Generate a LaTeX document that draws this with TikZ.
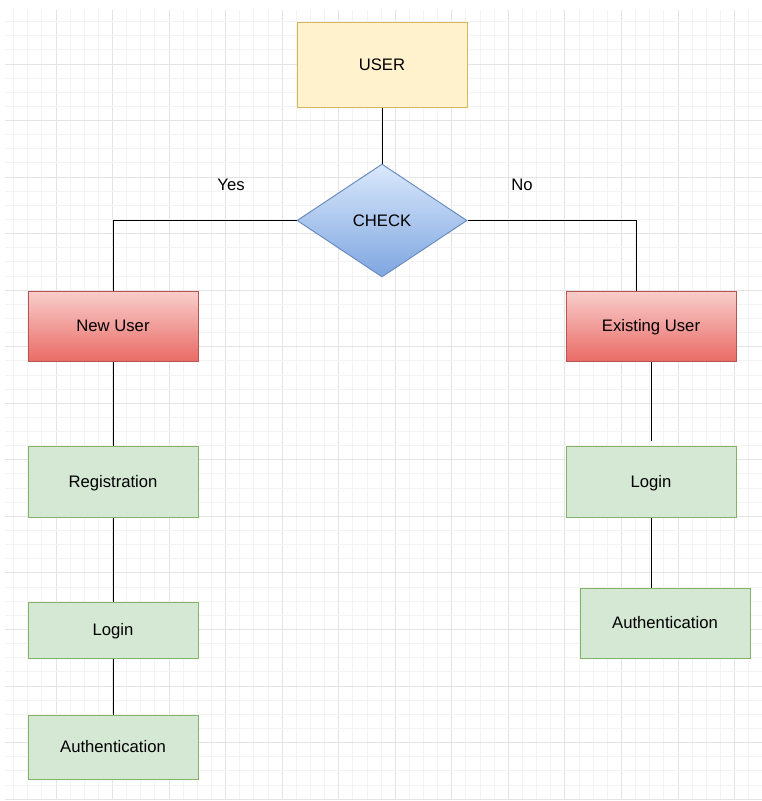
\documentclass[tikz,border=0pt]{standalone}
\usepackage{fontspec}
\setmainfont{Liberation Sans}
\usetikzlibrary{shapes.geometric}

\definecolor{gridminor}{HTML}{F3F3F3}
\definecolor{gridmajor}{HTML}{E4E4E4}
\definecolor{yellowfill}{HTML}{FFF2CC}
\definecolor{yellowline}{HTML}{D6B656}
\definecolor{greenfill}{HTML}{D5E8D4}
\definecolor{greenline}{HTML}{82B366}
\definecolor{redtop}{HTML}{F8CECC}
\definecolor{redbottom}{HTML}{EA6B66}
\definecolor{redline}{HTML}{B85450}
\definecolor{bluetop}{HTML}{DAE8FC}
\definecolor{bluebottom}{HTML}{7EA6E0}
\definecolor{blueline}{HTML}{6C8EBF}

\newlength{\px}
\setlength{\px}{0.75pt}

\tikzset{
  txt/.style={font=\fontsize{12.5}{15}\selectfont, text height=8.95pt, text depth=0pt},
  box/.style={rectangle, minimum width=170\px, line width=0.75pt, inner sep=0pt, txt},
  userbox/.style={box, fill=yellowfill, draw=yellowline, minimum height=85\px},
  redbox/.style={box, top color=redtop, bottom color=redbottom, draw=redline, minimum height=70\px},
  greenbox/.style={box, fill=greenfill, draw=greenline},
  checkbox/.style={diamond, minimum width=170\px, minimum height=113\px, inner sep=0pt,
    top color=bluetop, bottom color=bluebottom, draw=blueline, line width=0.75pt, txt},
  link/.style={draw=black, line width=0.75pt},
  lbl/.style={inner sep=0pt, txt},
  minorline/.style={draw=gridminor, line width=0.75pt},
  majorline/.style={draw=gridmajor, line width=0.75pt},
}

\begin{document}
\begin{tikzpicture}[x=0.75pt, y=-0.75pt]
  % canvas
  \fill[white] (0,0) rectangle (762,801);
  \useasboundingbox (0,0) rectangle (762,801);

  % background grid
  \begin{scope}
    \clip (5,10) rectangle (762,799);
    \foreach \i in {0,...,54} {
      \pgfmathtruncatemacro{\m}{mod(\i,4)}
      \ifnum\m=0
        \draw[majorline] ({-0.55+\i*14.1375},10) -- ({-0.55+\i*14.1375},799);
      \else
        \draw[minorline] ({-0.55+\i*14.1375},10) -- ({-0.55+\i*14.1375},799);
      \fi
    }
    \foreach \j in {0,...,56} {
      \pgfmathtruncatemacro{\m}{mod(\j,4)}
      \ifnum\m=0
        \draw[majorline] (5,{7.45+\j*14.1375}) -- (762,{7.45+\j*14.1375});
      \else
        \draw[minorline] (5,{7.45+\j*14.1375}) -- (762,{7.45+\j*14.1375});
      \fi
    }
  \end{scope}

  % nodes
  \node[userbox] (user) at (382,64.5) {USER};
  \node[checkbox] (check) at (382,220.5) {CHECK};
  \node[redbox] (newuser) at (113,326) {New User};
  \node[redbox] (existing) at (651,326) {Existing User};
  \node[greenbox, minimum height=71\px] (reg) at (113,481.5) {Registration};
  \node[greenbox, minimum height=56\px] (loginl) at (113,630) {Login};
  \node[greenbox, minimum height=64\px] (authl) at (113,747) {Authentication};
  \node[greenbox, minimum height=71\px] (loginr) at (651,482) {Login};
  \node[greenbox, minimum height=70\px] (authr) at (665,623) {Authentication};

  % branch labels
  \node[lbl] (yes) at (231,185) {Yes};
  \node[lbl] (no) at (522,185) {No};

  % connection points
  \coordinate (existtop) at (636,291);
  \coordinate (existend) at (651,440.7);

  % connectors
  \draw[link] (user.south) -- (check.north);
  \draw[link] (check.west) -| (newuser.north);
  \draw[link] (check.east) -| (existtop);
  \draw[link] (newuser.south) -- (reg.north);
  \draw[link] (reg.south) -- (loginl.north);
  \draw[link] (loginl.south) -- (authl.north);
  \draw[link] (existing.south) -- (existend);
  \draw[link] (loginr.south) -- (loginr.south |- authr.north);
\end{tikzpicture}
\end{document}
